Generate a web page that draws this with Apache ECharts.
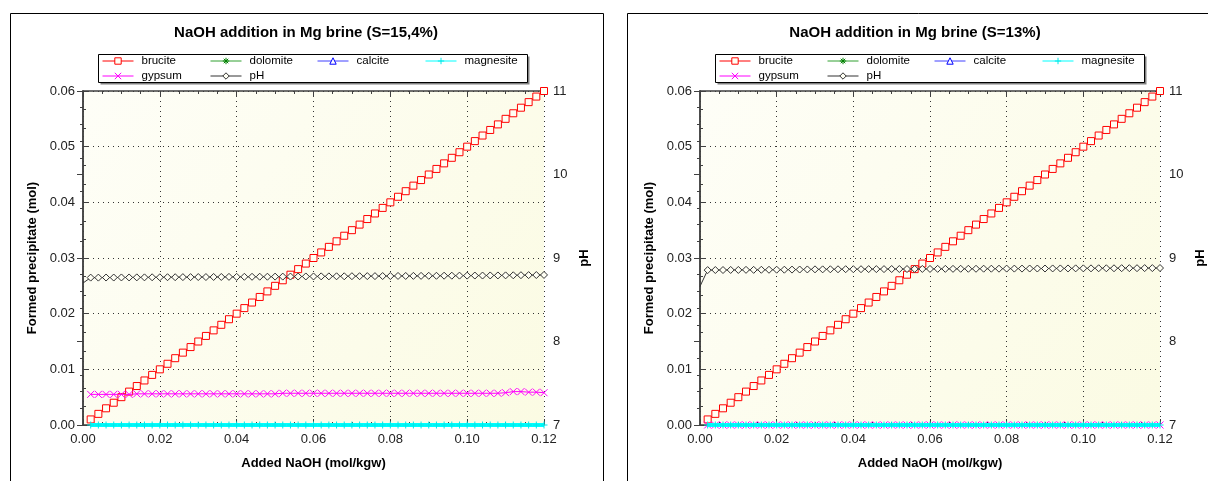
<!DOCTYPE html>
<html>
<head>
<meta charset="utf-8">
<script src="https://cdn.jsdelivr.net/npm/echarts@6/dist/echarts.min.js"></script>
<style>html,body{margin:0;padding:0;background:#fff}#c{width:1208px;height:481px}</style>
</head>
<body>
<div id="c"></div>
<script>
// ---- data ----
const titles = ['NaOH addition in Mg brine (S=15,4%)', 'NaOH addition in Mg brine (S=13%)'];
const legendNames = ['brucite', 'dolomite', 'calcite', 'magnesite', 'gypsum', 'pH'];
const xs = [0, 0.002, 0.004, 0.006, 0.008, 0.010, 0.012, 0.014, 0.016, 0.018,
  0.020, 0.022, 0.024, 0.026, 0.028, 0.030, 0.032, 0.034, 0.036, 0.038,
  0.040, 0.042, 0.044, 0.046, 0.048, 0.050, 0.052, 0.054, 0.056, 0.058,
  0.060, 0.062, 0.064, 0.066, 0.068, 0.070, 0.072, 0.074, 0.076, 0.078,
  0.080, 0.082, 0.084, 0.086, 0.088, 0.090, 0.092, 0.094, 0.096, 0.098,
  0.100, 0.102, 0.104, 0.106, 0.108, 0.110, 0.112, 0.114, 0.116, 0.118, 0.120];
const xTicks = ['0.00', '0.02', '0.04', '0.06', '0.08', '0.10', '0.12'];
// left chart (S=15,4%)
const bruciteL = [null, 0.001, 0.002, 0.003, 0.004, 0.005, 0.006, 0.007, 0.008, 0.009,
  0.010, 0.011, 0.012, 0.013, 0.014, 0.015, 0.016, 0.017, 0.018, 0.019,
  0.020, 0.021, 0.022, 0.023, 0.024, 0.025, 0.026, 0.027, 0.028, 0.029,
  0.030, 0.031, 0.032, 0.033, 0.034, 0.035, 0.036, 0.037, 0.038, 0.039,
  0.040, 0.041, 0.042, 0.043, 0.044, 0.045, 0.046, 0.047, 0.048, 0.049,
  0.050, 0.051, 0.052, 0.053, 0.054, 0.055, 0.056, 0.057, 0.058, 0.059, 0.060];
const gypsumL = [null, 0.0055, 0.0055, 0.0055, 0.0055, 0.0055, 0.0055, 0.0056, 0.0056, 0.0056,
  0.0056, 0.0056, 0.0056, 0.0056, 0.0056, 0.0056, 0.0056, 0.0056, 0.0056, 0.0056,
  0.0056, 0.0056, 0.0056, 0.0056, 0.0056, 0.0056, 0.0057, 0.0057, 0.0057, 0.0057,
  0.0057, 0.0057, 0.0057, 0.0057, 0.0057, 0.0057, 0.0057, 0.0057, 0.0057, 0.0057,
  0.0057, 0.0057, 0.0057, 0.0057, 0.0057, 0.0057, 0.0057, 0.0057, 0.0057, 0.0057,
  0.0057, 0.0057, 0.0057, 0.0057, 0.0057, 0.0058, 0.0060, 0.0060, 0.0059, 0.0059, 0.0058];
const dolomiteL = [null, 0, 0, 0, 0, 0, 0, 0, 0, 0, 0, 0, 0, 0, 0, 0, 0, 0, 0, 0, 0, 0, 0, 0, 0, 0, 0, 0, 0, 0,
  0, 0, 0, 0, 0, 0, 0, 0, 0, 0, 0, 0, 0, 0, 0, 0, 0, 0, 0, 0, 0, 0, 0, 0, 0, 0, 0, 0, 0, 0, 0];
const calciteL = [null, 0, 0, 0, 0, 0, 0, 0, 0, 0, 0, 0, 0, 0, 0, 0, 0, 0, 0, 0, 0, 0, 0, 0, 0, 0, 0, 0, 0, 0,
  0, 0, 0, 0, 0, 0, 0, 0, 0, 0, 0, 0, 0, 0, 0, 0, 0, 0, 0, 0, 0, 0, 0, 0, 0, 0, 0, 0, 0, 0, 0];
const magnesiteL = [null, 0, 0, 0, 0, 0, 0, 0, 0, 0, 0, 0, 0, 0, 0, 0, 0, 0, 0, 0, 0, 0, 0, 0, 0, 0, 0, 0, 0, 0,
  0, 0, 0, 0, 0, 0, 0, 0, 0, 0, 0, 0, 0, 0, 0, 0, 0, 0, 0, 0, 0, 0, 0, 0, 0, 0, 0, 0, 0, 0, 0];
const phL = [8.70, 8.765, 8.765, 8.766, 8.766, 8.767, 8.767, 8.768, 8.768, 8.769,
  8.769, 8.770, 8.770, 8.771, 8.771, 8.772, 8.772, 8.773, 8.773, 8.774,
  8.774, 8.775, 8.775, 8.776, 8.776, 8.777, 8.777, 8.778, 8.778, 8.779,
  8.779, 8.780, 8.780, 8.781, 8.781, 8.782, 8.782, 8.783, 8.783, 8.784,
  8.784, 8.785, 8.785, 8.786, 8.786, 8.787, 8.787, 8.788, 8.788, 8.789,
  8.789, 8.790, 8.790, 8.791, 8.791, 8.792, 8.793, 8.794, 8.795, 8.796, 8.797];
// right chart (S=13%)
const bruciteR = [null, 0.001, 0.002, 0.003, 0.004, 0.005, 0.006, 0.007, 0.008, 0.009,
  0.010, 0.011, 0.012, 0.013, 0.014, 0.015, 0.016, 0.017, 0.018, 0.019,
  0.020, 0.021, 0.022, 0.023, 0.024, 0.025, 0.026, 0.027, 0.028, 0.029,
  0.030, 0.031, 0.032, 0.033, 0.034, 0.035, 0.036, 0.037, 0.038, 0.039,
  0.040, 0.041, 0.042, 0.043, 0.044, 0.045, 0.046, 0.047, 0.048, 0.049,
  0.050, 0.051, 0.052, 0.053, 0.054, 0.055, 0.056, 0.057, 0.058, 0.059, 0.060];
const gypsumR = [null, 0, 0, 0, 0, 0, 0, 0, 0, 0, 0, 0, 0, 0, 0, 0, 0, 0, 0, 0, 0, 0, 0, 0, 0, 0, 0, 0, 0, 0,
  0, 0, 0, 0, 0, 0, 0, 0, 0, 0, 0, 0, 0, 0, 0, 0, 0, 0, 0, 0, 0, 0, 0, 0, 0, 0, 0, 0, 0, 0, 0];
const dolomiteR = [null, 0, 0, 0, 0, 0, 0, 0, 0, 0, 0, 0, 0, 0, 0, 0, 0, 0, 0, 0, 0, 0, 0, 0, 0, 0, 0, 0, 0, 0,
  0, 0, 0, 0, 0, 0, 0, 0, 0, 0, 0, 0, 0, 0, 0, 0, 0, 0, 0, 0, 0, 0, 0, 0, 0, 0, 0, 0, 0, 0, 0];
const calciteR = [null, 0, 0, 0, 0, 0, 0, 0, 0, 0, 0, 0, 0, 0, 0, 0, 0, 0, 0, 0, 0, 0, 0, 0, 0, 0, 0, 0, 0, 0,
  0, 0, 0, 0, 0, 0, 0, 0, 0, 0, 0, 0, 0, 0, 0, 0, 0, 0, 0, 0, 0, 0, 0, 0, 0, 0, 0, 0, 0, 0, 0];
const magnesiteR = [null, 0, 0, 0, 0, 0, 0, 0, 0, 0, 0, 0, 0, 0, 0, 0, 0, 0, 0, 0, 0, 0, 0, 0, 0, 0, 0, 0, 0, 0,
  0, 0, 0, 0, 0, 0, 0, 0, 0, 0, 0, 0, 0, 0, 0, 0, 0, 0, 0, 0, 0, 0, 0, 0, 0, 0, 0, 0, 0, 0, 0];
const phR = [8.66, 8.855, 8.856, 8.856, 8.857, 8.857, 8.858, 8.858, 8.859, 8.859,
  8.860, 8.860, 8.861, 8.862, 8.863, 8.864, 8.864, 8.865, 8.865, 8.866,
  8.866, 8.866, 8.867, 8.867, 8.867, 8.868, 8.868, 8.868, 8.869, 8.869,
  8.869, 8.870, 8.870, 8.870, 8.871, 8.871, 8.871, 8.872, 8.872, 8.872,
  8.873, 8.873, 8.873, 8.874, 8.874, 8.874, 8.875, 8.875, 8.875, 8.876,
  8.876, 8.876, 8.877, 8.877, 8.877, 8.878, 8.878, 8.878, 8.879, 8.879, 8.880];

// ---- chart ----
const FONT = '"Liberation Sans", Arial, sans-serif';
const chart = echarts.init(document.getElementById('c'), null, {renderer: 'canvas'});
// the initial (x = 0) state is drawn as line only, without a marker
const pairs = arr => xs.map((x, i) => ({value: [x, arr[i]], symbol: i === 0 ? 'none' : undefined}))
  .filter(p => p.value[1] !== null);

const sty = {
  brucite:   {symbol: 'rect', size: 7, fill: '#fffff4', stroke: '#ff0000', line: '#ff0000', lw: 1},
  dolomite:  {symbol: 'path://M5,0L5,10M0,5L10,5M1.5,1.5L8.5,8.5M8.5,1.5L1.5,8.5', size: 8, fill: 'none', stroke: '#008000', line: '#30a030', lw: 1, hide: true},
  calcite:   {symbol: 'triangle', size: 6, fill: '#ffffff', stroke: '#0000ff', line: '#4040ff', lw: 1, hide: true},
  magnesite: {symbol: 'path://M5,0L5,10M0,5L10,5', size: 7, fill: 'none', stroke: '#00e8e8', line: '#00ffff', lw: 4},
  gypsum:    {symbol: 'path://M0,0L10,10M10,0L0,10', size: 7, fill: 'none', stroke: '#ff00ff', line: '#ff00ff', lw: 1},
  pH:        {symbol: 'diamond', size: 7, fill: '#fffff4', stroke: '#333333', line: '#333333', lw: 1}
};
function mk(name, xi, yi, arr, z) {
  const s = sty[name];
  return {
    name, type: 'line', xAxisIndex: xi, yAxisIndex: yi, data: pairs(arr), z,
    symbol: s.symbol, symbolSize: s.size, showSymbol: !s.hide,
    itemStyle: {color: s.fill, borderColor: s.stroke, borderWidth: 1},
    lineStyle: {color: s.line, width: s.lw},
    emphasis: {disabled: true}, silent: true
  };
}
const bg = () => new echarts.graphic.LinearGradient(0, 0, 1, 1, [
  {offset: 0, color: '#fefef7'}, {offset: 1, color: '#fbfbe3'}]);
const grids = [
  {left: 83, top: 91, width: 461, height: 334, show: true, backgroundColor: bg(), borderWidth: 0},
  {left: 700, top: 91, width: 460, height: 334, show: true, backgroundColor: bg(), borderWidth: 0}
];
const axLine = {show: true, lineStyle: {color: '#404040', width: 1.5}};
const lbl = {fontFamily: FONT, fontSize: 13, color: '#222'};
const nameSt = {fontFamily: FONT, fontSize: 13, fontWeight: 'bold', color: '#000'};
const dots = {show: true, lineStyle: {color: '#333', width: 1, type: [1, 4]}};
function xAx(g, top) {
  return {
    gridIndex: g, type: 'value', min: 0, max: 0.12, interval: 0.02, position: top ? 'top' : 'bottom',
    axisLine: axLine,
    axisTick: {show: true, inside: true, length: 6, lineStyle: {color: '#404040'}},
    minorTick: {show: true, splitNumber: 4, length: 3, lineStyle: {color: '#404040'}},
    splitLine: top ? {show: false} : dots,
    axisLabel: top ? {show: false} : Object.assign({margin: 8, formatter: v => xTicks[Math.round(v / 0.02)]}, lbl),
    name: top ? '' : 'Added NaOH (mol/kgw)', nameLocation: 'middle', nameGap: 32, nameTextStyle: nameSt
  };
}
function yAxL(g) {
  return {
    gridIndex: g, type: 'value', min: 0, max: 0.06, interval: 0.01, position: 'left',
    axisLine: axLine,
    axisTick: {show: true, inside: true, length: 6, lineStyle: {color: '#404040'}},
    minorTick: {show: true, splitNumber: 3, length: 3, lineStyle: {color: '#404040'}},
    splitLine: dots,
    axisLabel: Object.assign({margin: 8, formatter: v => v.toFixed(2)}, lbl),
    name: 'Formed precipitate (mol)', nameLocation: 'middle', nameRotate: 90, nameGap: 44, nameTextStyle: nameSt
  };
}
function yAxR(g) {
  return {
    gridIndex: g, type: 'value', min: 7, max: 11, interval: 1, position: 'right',
    axisLine: axLine,
    axisTick: {show: true, inside: true, length: 6, lineStyle: {color: '#404040'}},
    minorTick: {show: true, splitNumber: 5, length: 3, lineStyle: {color: '#404040'}},
    splitLine: {show: false},
    axisLabel: Object.assign({margin: 9}, lbl),
    name: 'pH', nameLocation: 'middle', nameRotate: 90, nameGap: 34, nameTextStyle: nameSt
  };
}

const legendPos = [[102, 55], [210, 55], [317, 55], [425, 55], [102, 70], [210, 70]];
const legends = [];
[0, 617].forEach(off => {
  legendNames.forEach((n, i) => {
    legends.push({
      data: [n], left: legendPos[i][0] + off, top: legendPos[i][1], padding: 0,
      itemWidth: 31, itemHeight: 8, itemGap: 0, selectedMode: false,
      itemStyle: {borderWidth: 1},
      lineStyle: {width: 1},
      textStyle: {fontFamily: FONT, fontSize: 11.5, color: '#000', padding: [0, 0, 0, 3]}
    });
  });
});

const graphics = [];
[[10.5, 306], [627.5, 915]].forEach(([px, tx], k) => {
  graphics.push({type: 'rect', z: -10, shape: {x: px, y: 13.5, width: k ? 700 : 593, height: 520},
    style: {fill: 'none', stroke: '#000', lineWidth: 1}});
  graphics.push({type: 'text', z: 1, style: {text: titles[k], x: tx, y: 33, align: 'center', verticalAlign: 'middle',
    font: 'bold 15px ' + FONT, fill: '#000'}});
  const lx = 98.5 + k * 617;
  graphics.push({type: 'rect', z: 0, shape: {x: lx + 2, y: 56.5, width: 429, height: 28}, style: {fill: '#808080'}});
  graphics.push({type: 'rect', z: 1, shape: {x: lx, y: 54.5, width: 429, height: 28}, style: {fill: '#fff', stroke: '#000', lineWidth: 1}});
});

chart.setOption({
  animation: false,
  backgroundColor: '#fff',
  grid: grids,
  xAxis: [xAx(0, false), xAx(0, true), xAx(1, false), xAx(1, true)],
  yAxis: [yAxL(0), yAxR(0), yAxL(1), yAxR(1)],
  legend: legends,
  graphic: graphics,
  series: [
    mk('brucite', 0, 0, bruciteL, 2),
    mk('gypsum', 0, 0, gypsumL, 3),
    mk('dolomite', 0, 0, dolomiteL, 3),
    mk('calcite', 0, 0, calciteL, 3),
    mk('magnesite', 0, 0, magnesiteL, 4),
    mk('pH', 0, 1, phL, 5),
    mk('brucite', 2, 2, bruciteR, 2),
    mk('gypsum', 2, 2, gypsumR, 3),
    mk('dolomite', 2, 2, dolomiteR, 3),
    mk('calcite', 2, 2, calciteR, 3),
    mk('magnesite', 2, 2, magnesiteR, 4),
    mk('pH', 2, 3, phR, 5)
  ]
});
</script>
</body>
</html>
